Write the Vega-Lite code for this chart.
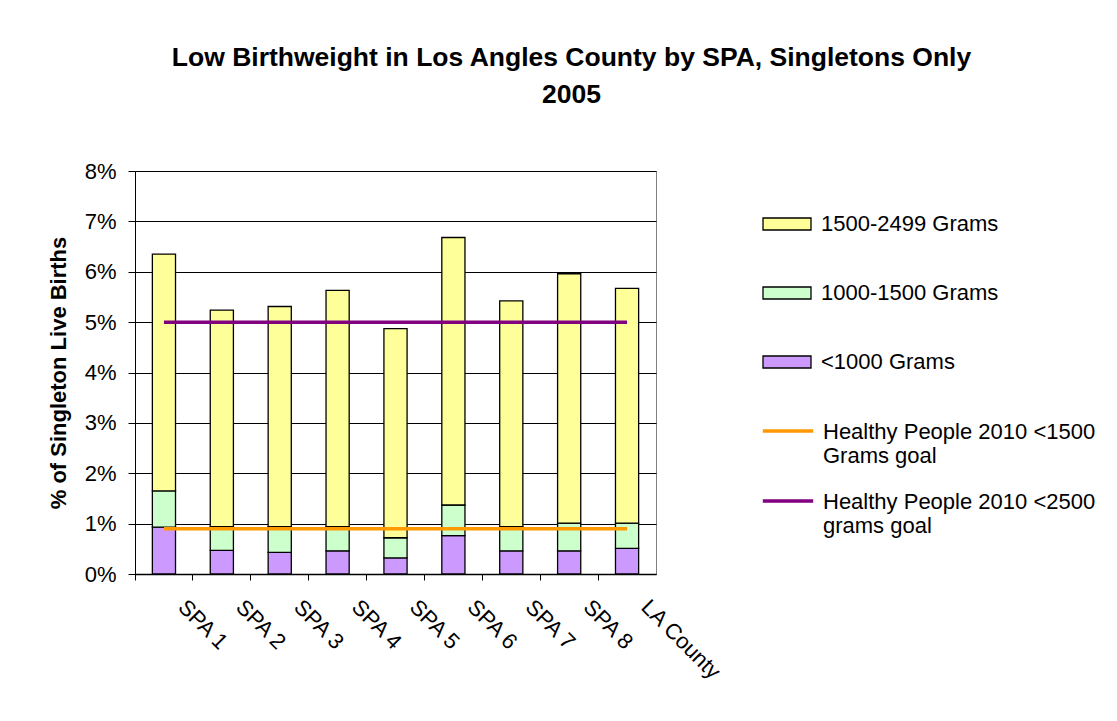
{
  "$schema": "https://vega.github.io/schema/vega-lite/v6.json",
  "width": 521,
  "height": 403,
  "autosize": {"type": "none"},
  "padding": {"left": 135, "top": 171, "right": 461, "bottom": 147},
  "background": "white",
  "title": {
    "text": ["Low Birthweight in Los Angles County by SPA, Singletons Only", "2005"],
    "font": "Liberation Sans",
    "fontSize": 26.5,
    "fontWeight": "bold",
    "lineHeight": 37,
    "color": "#000000",
    "offset": 52,
    "dx": 176
  },
  "datasets": {
    "bars": [
      {"area": "SPA 1", "group": "<1000 Grams", "ord": 1, "value": 0.0093},
      {"area": "SPA 1", "group": "1000-1500 Grams", "ord": 2, "value": 0.0072},
      {"area": "SPA 1", "group": "1500-2499 Grams", "ord": 3, "value": 0.0470},
      {"area": "SPA 2", "group": "<1000 Grams", "ord": 1, "value": 0.0047},
      {"area": "SPA 2", "group": "1000-1500 Grams", "ord": 2, "value": 0.0047},
      {"area": "SPA 2", "group": "1500-2499 Grams", "ord": 3, "value": 0.0430},
      {"area": "SPA 3", "group": "<1000 Grams", "ord": 1, "value": 0.0043},
      {"area": "SPA 3", "group": "1000-1500 Grams", "ord": 2, "value": 0.0051},
      {"area": "SPA 3", "group": "1500-2499 Grams", "ord": 3, "value": 0.0437},
      {"area": "SPA 4", "group": "<1000 Grams", "ord": 1, "value": 0.0046},
      {"area": "SPA 4", "group": "1000-1500 Grams", "ord": 2, "value": 0.0048},
      {"area": "SPA 4", "group": "1500-2499 Grams", "ord": 3, "value": 0.0469},
      {"area": "SPA 5", "group": "<1000 Grams", "ord": 1, "value": 0.0032},
      {"area": "SPA 5", "group": "1000-1500 Grams", "ord": 2, "value": 0.0040},
      {"area": "SPA 5", "group": "1500-2499 Grams", "ord": 3, "value": 0.0415},
      {"area": "SPA 6", "group": "<1000 Grams", "ord": 1, "value": 0.0076},
      {"area": "SPA 6", "group": "1000-1500 Grams", "ord": 2, "value": 0.0061},
      {"area": "SPA 6", "group": "1500-2499 Grams", "ord": 3, "value": 0.0531},
      {"area": "SPA 7", "group": "<1000 Grams", "ord": 1, "value": 0.0046},
      {"area": "SPA 7", "group": "1000-1500 Grams", "ord": 2, "value": 0.0048},
      {"area": "SPA 7", "group": "1500-2499 Grams", "ord": 3, "value": 0.0448},
      {"area": "SPA 8", "group": "<1000 Grams", "ord": 1, "value": 0.0046},
      {"area": "SPA 8", "group": "1000-1500 Grams", "ord": 2, "value": 0.0055},
      {"area": "SPA 8", "group": "1500-2499 Grams", "ord": 3, "value": 0.0495},
      {"area": "LA County", "group": "<1000 Grams", "ord": 1, "value": 0.0051},
      {"area": "LA County", "group": "1000-1500 Grams", "ord": 2, "value": 0.0050},
      {"area": "LA County", "group": "1500-2499 Grams", "ord": 3, "value": 0.0466}
    ],
    "goals": [
      {"area": "SPA 1", "group": "Healthy People 2010 <1500 Grams goal", "value": 0.009},
      {"area": "SPA 2", "group": "Healthy People 2010 <1500 Grams goal", "value": 0.009},
      {"area": "SPA 3", "group": "Healthy People 2010 <1500 Grams goal", "value": 0.009},
      {"area": "SPA 4", "group": "Healthy People 2010 <1500 Grams goal", "value": 0.009},
      {"area": "SPA 5", "group": "Healthy People 2010 <1500 Grams goal", "value": 0.009},
      {"area": "SPA 6", "group": "Healthy People 2010 <1500 Grams goal", "value": 0.009},
      {"area": "SPA 7", "group": "Healthy People 2010 <1500 Grams goal", "value": 0.009},
      {"area": "SPA 8", "group": "Healthy People 2010 <1500 Grams goal", "value": 0.009},
      {"area": "LA County", "group": "Healthy People 2010 <1500 Grams goal", "value": 0.009},
      {"area": "SPA 1", "group": "Healthy People 2010 <2500 grams goal", "value": 0.05},
      {"area": "SPA 2", "group": "Healthy People 2010 <2500 grams goal", "value": 0.05},
      {"area": "SPA 3", "group": "Healthy People 2010 <2500 grams goal", "value": 0.05},
      {"area": "SPA 4", "group": "Healthy People 2010 <2500 grams goal", "value": 0.05},
      {"area": "SPA 5", "group": "Healthy People 2010 <2500 grams goal", "value": 0.05},
      {"area": "SPA 6", "group": "Healthy People 2010 <2500 grams goal", "value": 0.05},
      {"area": "SPA 7", "group": "Healthy People 2010 <2500 grams goal", "value": 0.05},
      {"area": "SPA 8", "group": "Healthy People 2010 <2500 grams goal", "value": 0.05},
      {"area": "LA County", "group": "Healthy People 2010 <2500 grams goal", "value": 0.05}
    ]
  },
  "config": {
    "font": "Liberation Sans",
    "view": {"stroke": "#808080", "strokeWidth": 1},
    "axis": {
      "labelColor": "#000000",
      "titleColor": "#000000",
      "domainColor": "#000000",
      "tickColor": "#000000",
      "labelFont": "Liberation Sans",
      "titleFont": "Liberation Sans"
    },
    "legend": {
      "labelFont": "Liberation Sans",
      "labelFontSize": 22,
      "labelColor": "#000000",
      "labelLimit": 400,
      "padding": 8,
      "labelOffset": 9,
      "symbolSize": 2304,
      "symbolOpacity": 1
    }
  },
  "layer": [
    {
      "data": {"name": "bars"},
      "mark": {"type": "bar", "stroke": "#000000", "strokeWidth": 1.3, "width": {"band": 0.4}},
      "encoding": {
        "x": {
          "field": "area",
          "type": "nominal",
          "sort": ["SPA 1", "SPA 2", "SPA 3", "SPA 4", "SPA 5", "SPA 6", "SPA 7", "SPA 8", "LA County"],
          "scale": {"paddingInner": 0, "paddingOuter": 0},
          "axis": {
            "title": null,
            "grid": false,
            "bandPosition": 0,
            "labelAngle": 45,
            "labelAlign": "left",
            "labelBaseline": "top",
            "labelFontSize": 22,
            "labelOffset": 25,
            "labelPadding": 16,
            "tickSize": 6,
            "domainWidth": 1.3
          }
        },
        "y": {
          "field": "value",
          "type": "quantitative",
          "stack": "zero",
          "scale": {"domain": [0, 0.08]},
          "axis": {
            "title": "% of Singleton Live Births",
            "titleFontSize": 22,
            "titleFontWeight": "bold",
            "titlePadding": 14,
            "values": [0, 0.01, 0.02, 0.03, 0.04, 0.05, 0.06, 0.07, 0.08],
            "format": ".0%",
            "labelFontSize": 22,
            "labelPadding": 12,
            "tickSize": 7,
            "grid": true,
            "gridColor": "#000000",
            "gridOpacity": 1,
            "gridWidth": 1
          }
        },
        "fill": {
          "field": "group",
          "type": "nominal",
          "scale": {
            "domain": ["1500-2499 Grams", "1000-1500 Grams", "<1000 Grams"],
            "range": ["#FFFF99", "#CCFFCC", "#CC99FF"]
          },
          "legend": {
            "title": null,
            "orient": "none",
            "legendX": 619,
            "legendY": 20,
            "symbolType": "M-1,-0.25H1V0.25H-1Z",
            "symbolStrokeColor": "#000000",
            "symbolStrokeWidth": 1.3,
            "labelBaseline": "middle",
            "rowPadding": 33
          }
        },
        "order": {"field": "ord", "type": "quantitative"}
      }
    },
    {
      "data": {"name": "goals"},
      "mark": {"type": "line", "strokeWidth": 3.5},
      "encoding": {
        "x": {
          "field": "area",
          "type": "nominal",
          "sort": ["SPA 1", "SPA 2", "SPA 3", "SPA 4", "SPA 5", "SPA 6", "SPA 7", "SPA 8", "LA County"]
        },
        "y": {"field": "value", "type": "quantitative"},
        "stroke": {
          "field": "group",
          "type": "nominal",
          "scale": {
            "domain": ["Healthy People 2010 <1500 Grams goal", "Healthy People 2010 <2500 grams goal"],
            "range": ["#FF9900", "#800080"]
          },
          "legend": {
            "title": null,
            "orient": "none",
            "legendX": 619,
            "legendY": 234,
            "symbolType": "M-1.05,-0.33H1.05",
            "symbolStrokeWidth": 3.5,
            "labelBaseline": "alphabetic",
            "rowPadding": 16,
            "labelExpr": "datum.label == 'Healthy People 2010 <1500 Grams goal' ? ['Healthy People 2010 <1500', 'Grams goal'] : ['Healthy People 2010 <2500', 'grams goal']"
          }
        }
      }
    }
  ]
}
